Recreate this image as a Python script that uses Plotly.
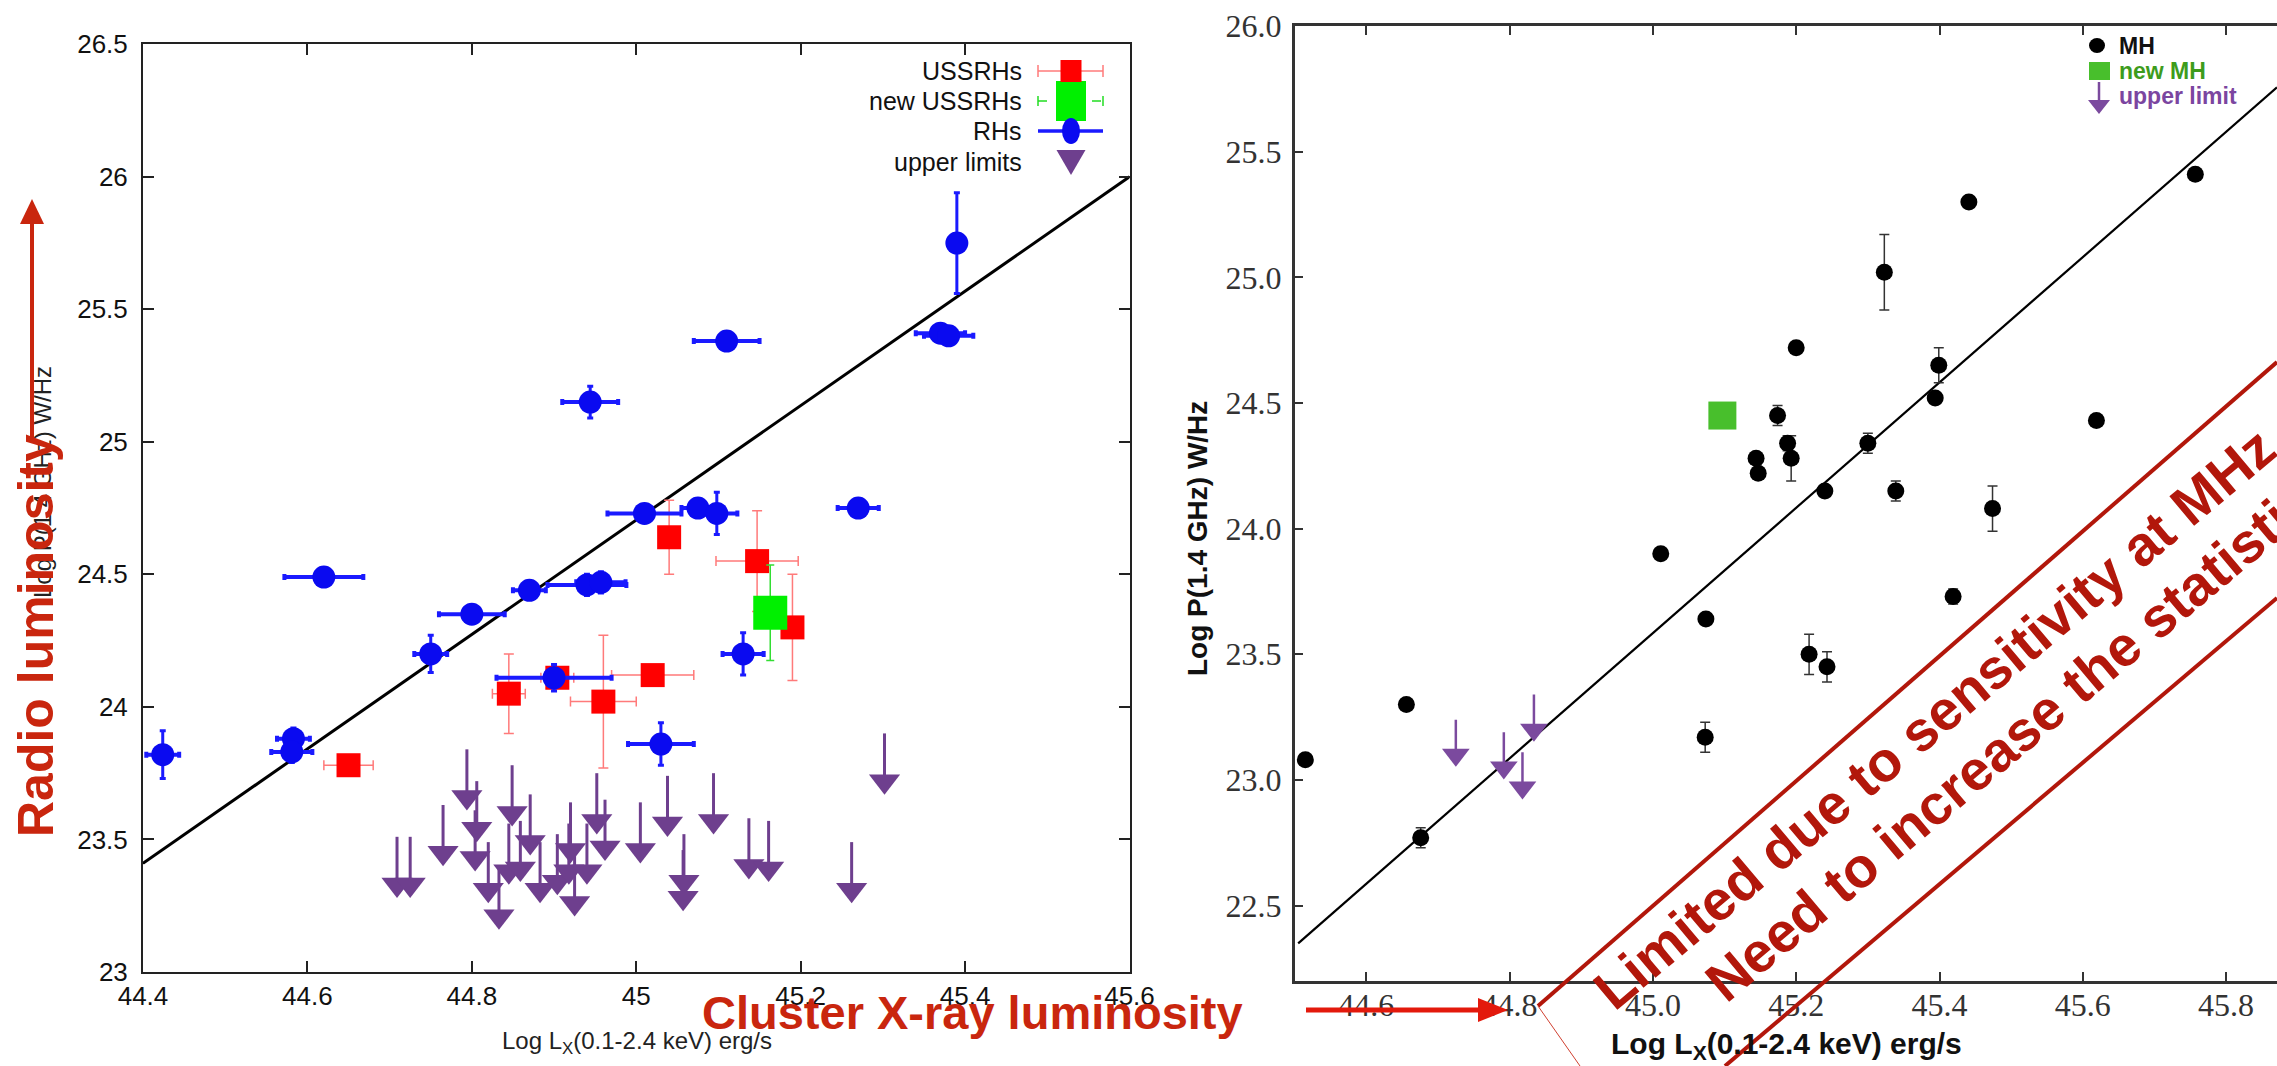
import plotly.graph_objects as go

W, H = 2277, 1066

# ---------------- left panel: radio halos vs X-ray luminosity ----------------
rh_lx = [44.424, 44.583, 44.581, 44.62, 44.75, 44.80, 44.87, 44.90, 44.94, 44.957, 44.944,
         45.01, 45.03, 45.075, 45.098, 45.11, 45.13, 45.27, 45.37, 45.38, 45.39]
rh_p = [23.82, 23.88, 23.83, 24.49, 24.20, 24.35, 24.44, 24.11, 24.46, 24.47, 25.15,
        24.73, 23.86, 24.75, 24.73, 25.38, 24.20, 24.75, 25.41, 25.40, 25.75]
rh_lx_err = [0.02, 0.02, 0.025, 0.048, 0.02, 0.04, 0.02, 0.07, 0.048, 0.03, 0.034,
             0.045, 0.04, 0.02, 0.025, 0.04, 0.025, 0.025, 0.03, 0.03, 0.01]
rh_p_err = [0.09, 0.04, 0.04, 0.02, 0.07, 0.02, 0.03, 0.05, 0.04, 0.04, 0.06,
            0.03, 0.08, 0.03, 0.08, 0.02, 0.08, 0.02, 0.02, 0.02, 0.19]

ussrh_lx = [44.65, 44.845, 44.904, 44.96, 45.02, 45.04, 45.147, 45.19]
ussrh_p = [23.78, 24.05, 24.11, 24.02, 24.12, 24.64, 24.55, 24.30]
ussrh_lx_err = [0.03, 0.02, 0.02, 0.04, 0.05, 0.01, 0.05, 0.01]
ussrh_p_err = [0.02, 0.15, 0.02, 0.25, 0.02, 0.14, 0.19, 0.20]

new_ussrh_lx = [45.163]
new_ussrh_p = [24.355]
new_ussrh_p_err = [0.18]

ul_lx = [44.709, 44.725, 44.765, 44.794, 44.806, 44.804, 44.82, 44.833, 44.849, 44.845,
         44.859, 44.871, 44.883, 44.904, 44.92, 44.918, 44.925, 44.94, 44.952, 44.962,
         45.005, 45.038, 45.058, 45.057, 45.094, 45.137, 45.161, 45.262, 45.302]
ul_p = [23.33, 23.33, 23.45, 23.66, 23.54, 23.43, 23.31, 23.21, 23.60, 23.38,
        23.39, 23.49, 23.31, 23.34, 23.46, 23.38, 23.26, 23.38, 23.57, 23.47,
        23.46, 23.56, 23.34, 23.28, 23.57, 23.40, 23.39, 23.31, 23.72]

fit1_lx = [44.4, 45.6]
fit1_p = [23.41, 26.0]

left_xticks = [44.4, 44.6, 44.8, 45.0, 45.2, 45.4, 45.6]
left_xticktext = ["44.4", "44.6", "44.8", "45", "45.2", "45.4", "45.6"]
left_yticks = [23, 23.5, 24, 24.5, 25, 25.5, 26, 26.5]
left_yticktext = ["23", "23.5", "24", "24.5", "25", "25.5", "26", "26.5"]

# ---------------- right panel: mini halos ----------------
mh_lx = [44.515, 44.656, 44.676, 45.011, 45.074, 45.073, 45.144, 45.147, 45.174, 45.188,
         45.193, 45.20, 45.218, 45.24, 45.243, 45.30, 45.323, 45.339, 45.394, 45.399,
         45.419, 45.441, 45.474, 45.619, 45.757]
mh_p = [23.08, 23.30, 22.77, 23.90, 23.64, 23.17, 24.28, 24.22, 24.45, 24.34,
        24.28, 24.72, 23.50, 24.15, 23.45, 24.34, 25.02, 24.15, 24.52, 24.65,
        23.73, 25.30, 24.08, 24.43, 25.41]
mh_p_err = [0, 0, 0.04, 0, 0, 0.06, 0.02, 0.02, 0.04, 0.03,
            0.09, 0, 0.08, 0, 0.06, 0.04, 0.15, 0.04, 0, 0.07,
            0.03, 0, 0.09, 0, 0]

new_mh_lx = [45.097]
new_mh_p = [24.45]

mh_ul_lx = [44.725, 44.792, 44.818, 44.834]
mh_ul_p = [23.10, 23.05, 22.97, 23.20]

fit2_lx = [44.505, 45.871]
fit2_p = [22.35, 25.756]

right_xticks = [44.6, 44.8, 45.0, 45.2, 45.4, 45.6, 45.8]
right_yticks = [22.5, 23.0, 23.5, 24.0, 24.5, 25.0, 25.5, 26.0]

# ---------------- colours / fonts ----------------
RED_TXT = "#c9260e"
RED_ARROW = "#e3190c"
BAND_RED = "#b2170b"
PURPLE = "#6e3f8e"
PURPLE2 = "#7b4a9e"
NARROW = "Liberation Sans, Arial, sans-serif"
SANS = "Liberation Sans, Arial, sans-serif"
SERIF = "Liberation Serif, DejaVu Serif, serif"


def px(x):
    return x / W


def py(y):
    return 1 - y / H


fig = go.Figure()

# left panel traces
fig.add_trace(go.Scatter(x=fit1_lx, y=fit1_p, mode="lines", line=dict(color="black", width=3),
                         xaxis="x", yaxis="y", showlegend=False, hoverinfo="skip"))
fig.add_trace(go.Scatter(
    x=ul_lx, y=ul_p, mode="markers", xaxis="x", yaxis="y", showlegend=False,
    marker=dict(symbol="triangle-down", size=27, color=PURPLE),
    error_y=dict(type="constant", symmetric=False, value=0.18, valueminus=0,
                 color=PURPLE, thickness=3, width=0)))
fig.add_trace(go.Scatter(
    x=ussrh_lx, y=ussrh_p, mode="markers", xaxis="x", yaxis="y", showlegend=False,
    marker=dict(symbol="square", size=24, color="#ff0000"),
    error_x=dict(type="data", array=ussrh_lx_err, color="#ff7a7a", thickness=1.5, width=5),
    error_y=dict(type="data", array=ussrh_p_err, color="#ff7a7a", thickness=1.5, width=5)))
fig.add_trace(go.Scatter(
    x=new_ussrh_lx, y=new_ussrh_p, mode="markers", xaxis="x", yaxis="y", showlegend=False,
    marker=dict(symbol="square", size=34, color="#00f000"),
    error_y=dict(type="data", array=new_ussrh_p_err, color="#33dd33", thickness=1.5, width=4)))
fig.add_trace(go.Scatter(
    x=rh_lx, y=rh_p, mode="markers", xaxis="x", yaxis="y", showlegend=False,
    marker=dict(symbol="circle", size=23, color="#0a0af0"),
    error_x=dict(type="data", array=rh_lx_err, color="#1a1aff", thickness=4, width=3),
    error_y=dict(type="data", array=rh_p_err, color="#1a1aff", thickness=3, width=3)))

# right panel traces
fig.add_trace(go.Scatter(x=fit2_lx, y=fit2_p, mode="lines", line=dict(color="black", width=2.2),
                         xaxis="x2", yaxis="y2", showlegend=False, hoverinfo="skip"))
fig.add_trace(go.Scatter(
    x=mh_lx, y=mh_p, mode="markers", xaxis="x2", yaxis="y2", showlegend=False,
    marker=dict(symbol="circle", size=17, color="black"),
    error_y=dict(type="data", array=mh_p_err, color="#333333", thickness=1.5, width=5)))
fig.add_trace(go.Scatter(
    x=new_mh_lx, y=new_mh_p, mode="markers", xaxis="x2", yaxis="y2", showlegend=False,
    marker=dict(symbol="square", size=28, color="#48bf2c")))
fig.add_trace(go.Scatter(
    x=mh_ul_lx, y=mh_ul_p, mode="markers", xaxis="x2", yaxis="y2", showlegend=False,
    marker=dict(symbol="triangle-down", size=24, color=PURPLE2),
    error_y=dict(type="constant", symmetric=False, value=0.14, valueminus=0,
                 color=PURPLE2, thickness=2.5, width=0)))

axis_common = dict(showgrid=False, zeroline=False, showline=True, ticks="inside",
                   automargin=False)

fig.update_layout(
    width=W, height=H, margin=dict(l=0, r=0, t=0, b=0, pad=0), autosize=False,
    paper_bgcolor="white", plot_bgcolor="white", showlegend=False,
    xaxis=dict(**axis_common, domain=[px(143), px(1129.5)], range=[44.4, 45.6],
               tickvals=left_xticks, ticktext=left_xticktext, ticklen=11, tickwidth=2,
               linewidth=2, linecolor="#222", tickcolor="#222", mirror="ticks",
               tickfont=dict(family=NARROW, size=26, color="#111"), ticklabelstandoff=0,
               anchor="y"),
    yaxis=dict(**axis_common, domain=[py(972), py(44.2)], range=[23, 26.5],
               tickvals=left_yticks, ticktext=left_yticktext, ticklen=11, tickwidth=2,
               linewidth=2, linecolor="#222", tickcolor="#222", mirror="ticks",
               tickfont=dict(family=NARROW, size=26, color="#111"), ticklabelstandoff=8,
               anchor="x"),
    xaxis2=dict(**axis_common, domain=[px(1294.6), 1.0], range=[44.5, 45.871],
                tickvals=right_xticks, tickformat=".1f", ticklen=9, tickwidth=2,
                linewidth=2.5, linecolor="#333", tickcolor="#333", mirror="ticks",
                tickfont=dict(family=SERIF, size=32, color="#333"), ticklabelstandoff=-6,
                anchor="y2"),
    yaxis2=dict(**axis_common, domain=[py(981), py(26)], range=[22.2, 26.0],
                tickvals=right_yticks, tickformat=".1f", ticklen=9, tickwidth=2,
                linewidth=2.5, linecolor="#333", tickcolor="#333", mirror=False,
                tickfont=dict(family=SERIF, size=32, color="#333"), ticklabelstandoff=4,
                anchor="x2"),
)

ann = []
shapes = []


def text(t, x, y, size, color, family=SANS, angle=0, xanchor="center", yanchor="middle"):
    ann.append(dict(text=t, x=px(x), y=py(y), xref="paper", yref="paper", showarrow=False,
                    xanchor=xanchor, yanchor=yanchor, textangle=angle,
                    font=dict(family=family, size=size, color=color)))


def shape(**kw):
    kw.setdefault("xref", "paper")
    kw.setdefault("yref", "paper")
    shapes.append(kw)


def seg(x0, y0, x1, y1, color, width, dash="solid"):
    shape(type="line", x0=px(x0), y0=py(y0), x1=px(x1), y1=py(y1),
          line=dict(color=color, width=width, dash=dash))


def tri(points, color):
    p = " L ".join(f"{px(a)} {py(b)}" for a, b in points)
    shape(type="path", path=f"M {p} Z", fillcolor=color, line=dict(width=0))


# axis titles of the two panels
text("Log L<sub>X</sub>(0.1-2.4 keV) erg/s", 637, 1042, 24, "#222", NARROW)
text("Log P(1.4 GHz) W/Hz", 42, 482, 24, "#222", NARROW, angle=-90)
text("<b>Log L<sub>X</sub>(0.1-2.4 keV) erg/s</b>", 1786, 1045, 30, "#111")
text("<b>Log P(1.4 GHz) W/Hz</b>", 1197, 539, 28, "#111", angle=-90)

# ---- left legend (text, then symbol on its right) ----
leg_rows = [71, 101, 131, 162]
leg_labels = ["USSRHs", "new USSRHs", "RHs", "upper limits"]
for yy, lab in zip(leg_rows, leg_labels):
    text(lab, 1024, yy, 25, "#111", NARROW, xanchor="right")
sx = 1071
seg(1038, 71, 1103, 71, "#ff7a7a", 1.5)
for cx in (1038, 1103):
    seg(cx, 65, cx, 77, "#ff7a7a", 1.5)
seg(1038, 101, 1103, 101, "#22dd22", 1.5, "dash")
for cx in (1038, 1103):
    seg(cx, 96, cx, 106, "#22dd22", 1.5)
shape(type="rect", x0=px(sx - 15), x1=px(sx + 15), y0=py(121), y1=py(81),
      fillcolor="#00f000", line=dict(width=0))
shape(type="rect", x0=px(sx - 10.5), x1=px(sx + 10.5), y0=py(82), y1=py(60),
      fillcolor="#ff0000", line=dict(width=0))
seg(1038, 131, 1103, 131, "#1a1aff", 3.5)
shape(type="circle", x0=px(sx - 9), x1=px(sx + 9), y0=py(144), y1=py(118),
      fillcolor="#0a0af0", line=dict(width=0))
tri([(sx - 14.5, 150), (sx + 14.5, 150), (sx, 175)], PURPLE)

# ---- right legend ----
shape(type="circle", x0=px(2089), x1=px(2105), y0=py(53), y1=py(38),
      fillcolor="black", line=dict(width=0))
shape(type="rect", x0=px(2089), x1=px(2110), y0=py(80), y1=py(62),
      fillcolor="#48bf2c", line=dict(width=0))
seg(2099, 82, 2099, 102, PURPLE2, 2.5)
tri([(2088, 100), (2110, 100), (2099, 114)], PURPLE2)
for yy, lab, col in [(46, "MH", "#111111"), (71, "new MH", "#3d9c1c"), (96, "upper limit", "#7b45a0")]:
    text(f"<b>{lab}</b>", 2117, yy, 23, col, xanchor="left")

# ---- overlay: "Radio luminosity" with upward arrow ----
seg(32, 440, 32, 218, RED_TXT, 4)
tri([(20, 224), (44, 224), (32, 199)], RED_TXT)
text("<b>Radio luminosity</b>", 36, 636, 50, RED_TXT, angle=-90)

# ---- overlay: "Cluster X-ray luminosity" with arrow to the right ----
text("<b>Cluster X-ray luminosity</b>", 700, 1012, 47, RED_TXT, xanchor="left")
seg(1306, 1010, 1482, 1010, RED_ARROW, 5)
tri([(1478, 998), (1478, 1022), (1508, 1010)], RED_ARROW)

# ---- overlay: diagonal sensitivity band ----
seg(1538, 1006, 2277, 362, BAND_RED, 4)
seg(1725, 1066, 2277, 598, BAND_RED, 4)
seg(1538, 1006, 1580, 1066, "#d04030", 1)
text("<b>Limited due to sensitivity at MHz</b>", 1934, 718, 56, BAND_RED, angle=-40)
text("<b>Need to increase the statistics</b>", 2022, 730, 56, BAND_RED, angle=-40)

fig.update_layout(annotations=ann, shapes=shapes)

fig.write_html("out.html", config={"displayModeBar": False},
               post_script="document.body.style.margin='0px';"
                           "document.body.style.overflow='hidden';")
